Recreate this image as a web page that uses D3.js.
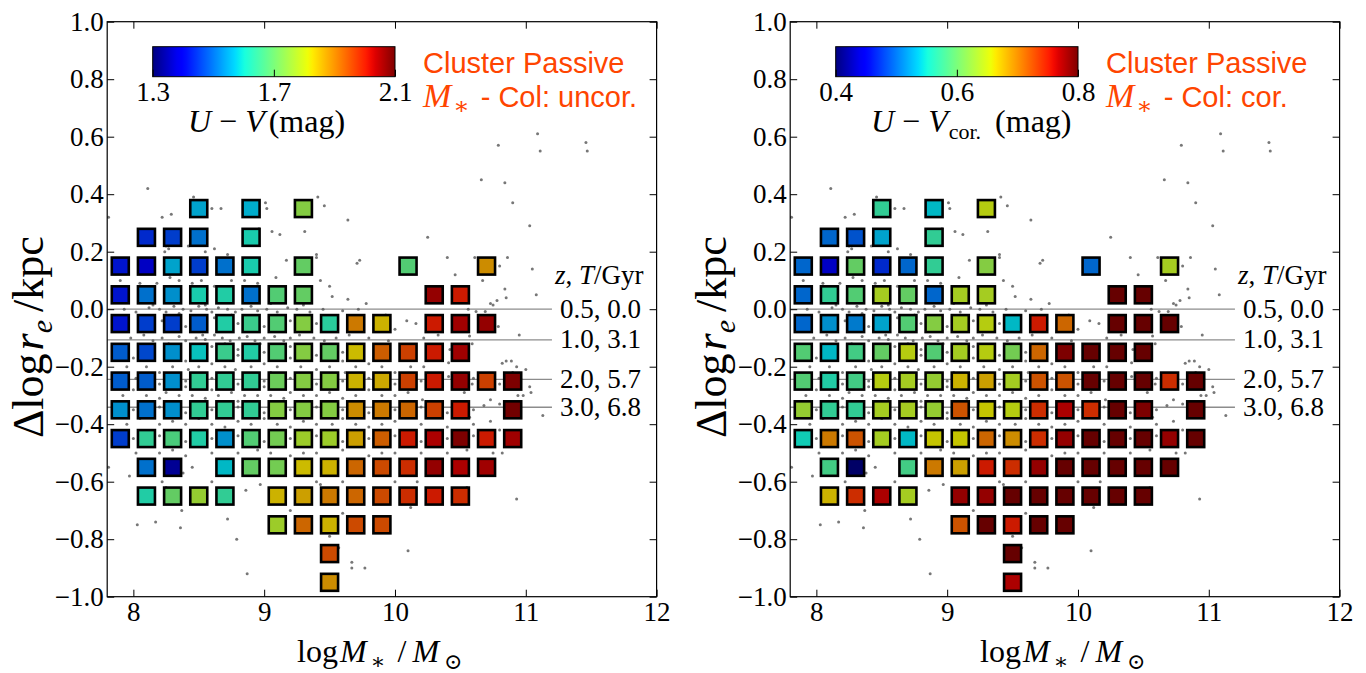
<!DOCTYPE html>
<html>
<head>
<meta charset="utf-8">
<script src="https://cdn.jsdelivr.net/npm/d3@7"></script>
<style>
  body { margin: 0; background: #fff; }
  svg { display: block; }
</style>
</head>
<body>
<svg id="chart"></svg>
<script>
// ---- data ----
const xTicks = [8, 9, 10, 11, 12];
const yTicks = [-1.0, -0.8, -0.6, -0.4, -0.2, 0.0, 0.2, 0.4, 0.6, 0.8, 1.0];

// binned medians: [logM*, dlog re, colour]
const uvCells = [
  [8.5, 0.35, 1.56], [8.9, 0.35, 1.57], [9.3, 0.35, 1.74],
  [8.1, 0.25, 1.44], [8.3, 0.25, 1.46], [8.5, 0.25, 1.51], [8.9, 0.25, 1.61],
  [7.9, 0.15, 1.42], [8.1, 0.15, 1.38], [8.3, 0.15, 1.56], [8.5, 0.15, 1.46], [8.7, 0.15, 1.51], [8.9, 0.15, 1.61], [9.3, 0.15, 1.70], [10.1, 0.15, 1.68], [10.7, 0.15, 1.88],
  [7.9, 0.05, 1.42], [8.1, 0.05, 1.51], [8.3, 0.05, 1.54], [8.5, 0.05, 1.61], [8.7, 0.05, 1.62], [8.9, 0.05, 1.51], [9.1, 0.05, 1.68], [9.3, 0.05, 1.70], [10.3, 0.05, 2.06], [10.5, 0.05, 2.00],
  [7.9, -0.05, 1.42], [8.1, -0.05, 1.46], [8.3, -0.05, 1.46], [8.5, -0.05, 1.49], [8.7, -0.05, 1.62], [8.9, -0.05, 1.65], [9.1, -0.05, 1.68], [9.3, -0.05, 1.74], [9.5, -0.05, 1.63], [9.7, -0.05, 1.90], [9.9, -0.05, 1.84], [10.3, -0.05, 2.00], [10.5, -0.05, 2.05], [10.7, -0.05, 2.06],
  [7.9, -0.15, 1.49], [8.1, -0.15, 1.47], [8.3, -0.15, 1.54], [8.5, -0.15, 1.59], [8.7, -0.15, 1.65], [8.9, -0.15, 1.62], [9.1, -0.15, 1.68], [9.3, -0.15, 1.74], [9.5, -0.15, 1.70], [9.7, -0.15, 1.83], [9.9, -0.15, 1.93], [10.1, -0.15, 1.96], [10.3, -0.15, 2.00], [10.5, -0.15, 2.05],
  [7.9, -0.25, 1.49], [8.1, -0.25, 1.49], [8.3, -0.25, 1.54], [8.5, -0.25, 1.64], [8.7, -0.25, 1.64], [8.9, -0.25, 1.64], [9.1, -0.25, 1.71], [9.3, -0.25, 1.74], [9.5, -0.25, 1.74], [9.7, -0.25, 1.84], [9.9, -0.25, 1.85], [10.1, -0.25, 1.96], [10.3, -0.25, 2.00], [10.5, -0.25, 2.06], [10.7, -0.25, 1.96], [10.9, -0.25, 2.08],
  [7.9, -0.35, 1.54], [8.1, -0.35, 1.51], [8.3, -0.35, 1.54], [8.5, -0.35, 1.64], [8.7, -0.35, 1.64], [8.9, -0.35, 1.64], [9.1, -0.35, 1.74], [9.3, -0.35, 1.74], [9.5, -0.35, 1.74], [9.7, -0.35, 1.88], [9.9, -0.35, 1.90], [10.1, -0.35, 1.92], [10.3, -0.35, 1.96], [10.5, -0.35, 2.00], [10.9, -0.35, 2.09],
  [7.9, -0.45, 1.46], [8.1, -0.45, 1.64], [8.3, -0.45, 1.67], [8.5, -0.45, 1.62], [8.7, -0.45, 1.54], [8.9, -0.45, 1.68], [9.1, -0.45, 1.72], [9.3, -0.45, 1.77], [9.5, -0.45, 1.77], [9.7, -0.45, 1.86], [9.9, -0.45, 1.93], [10.1, -0.45, 2.00], [10.3, -0.45, 2.04], [10.5, -0.45, 2.08], [10.7, -0.45, 2.00], [10.9, -0.45, 2.05],
  [8.1, -0.55, 1.51], [8.3, -0.55, 1.34], [8.7, -0.55, 1.58], [8.9, -0.55, 1.70], [9.1, -0.55, 1.72], [9.3, -0.55, 1.83], [9.5, -0.55, 1.84], [9.7, -0.55, 1.92], [9.9, -0.55, 1.95], [10.1, -0.55, 1.98], [10.3, -0.55, 2.06], [10.5, -0.55, 2.04], [10.7, -0.55, 2.05],
  [8.1, -0.65, 1.62], [8.3, -0.65, 1.70], [8.5, -0.65, 1.76], [8.7, -0.65, 1.64], [9.1, -0.65, 1.84], [9.3, -0.65, 1.86], [9.5, -0.65, 1.90], [9.7, -0.65, 1.92], [9.9, -0.65, 1.95], [10.1, -0.65, 1.98], [10.3, -0.65, 2.00], [10.5, -0.65, 1.98],
  [9.1, -0.75, 1.77], [9.3, -0.75, 1.92], [9.5, -0.75, 1.84], [9.7, -0.75, 1.95], [9.9, -0.75, 1.95],
  [9.5, -0.85, 1.95],
  [9.5, -0.95, 1.88]
];

const uvCorCells = [
  [8.5, 0.35, 0.57], [8.9, 0.35, 0.54], [9.3, 0.35, 0.65],
  [8.1, 0.25, 0.50], [8.3, 0.25, 0.49], [8.5, 0.25, 0.53], [8.9, 0.25, 0.57],
  [7.9, 0.15, 0.50], [8.1, 0.15, 0.44], [8.3, 0.15, 0.60], [8.5, 0.15, 0.47], [8.7, 0.15, 0.50], [8.9, 0.15, 0.57], [9.3, 0.15, 0.62], [10.1, 0.15, 0.50], [10.7, 0.15, 0.64],
  [7.9, 0.05, 0.50], [8.1, 0.05, 0.57], [8.3, 0.05, 0.59], [8.5, 0.05, 0.64], [8.7, 0.05, 0.60], [8.9, 0.05, 0.50], [9.1, 0.05, 0.64], [9.3, 0.05, 0.64], [10.3, 0.05, 0.82], [10.5, 0.05, 0.80],
  [7.9, -0.05, 0.50], [8.1, -0.05, 0.52], [8.3, -0.05, 0.51], [8.5, -0.05, 0.53], [8.7, -0.05, 0.59], [8.9, -0.05, 0.62], [9.1, -0.05, 0.64], [9.3, -0.05, 0.65], [9.5, -0.05, 0.54], [9.7, -0.05, 0.75], [9.9, -0.05, 0.71], [10.3, -0.05, 0.82], [10.5, -0.05, 0.82], [10.7, -0.05, 0.80],
  [7.9, -0.15, 0.59], [8.1, -0.15, 0.54], [8.3, -0.15, 0.58], [8.5, -0.15, 0.60], [8.7, -0.15, 0.65], [8.9, -0.15, 0.59], [9.1, -0.15, 0.64], [9.3, -0.15, 0.65], [9.5, -0.15, 0.61], [9.7, -0.15, 0.71], [9.9, -0.15, 0.79], [10.1, -0.15, 0.82], [10.3, -0.15, 0.82], [10.5, -0.15, 0.82],
  [7.9, -0.25, 0.59], [8.1, -0.25, 0.56], [8.3, -0.25, 0.58], [8.5, -0.25, 0.65], [8.7, -0.25, 0.64], [8.9, -0.25, 0.63], [9.1, -0.25, 0.67], [9.3, -0.25, 0.68], [9.5, -0.25, 0.64], [9.7, -0.25, 0.72], [9.9, -0.25, 0.72], [10.1, -0.25, 0.80], [10.3, -0.25, 0.82], [10.5, -0.25, 0.82], [10.7, -0.25, 0.74], [10.9, -0.25, 0.82],
  [7.9, -0.35, 0.63], [8.1, -0.35, 0.57], [8.3, -0.35, 0.57], [8.5, -0.35, 0.64], [8.7, -0.35, 0.64], [8.9, -0.35, 0.63], [9.1, -0.35, 0.72], [9.3, -0.35, 0.66], [9.5, -0.35, 0.65], [9.7, -0.35, 0.74], [9.9, -0.35, 0.77], [10.1, -0.35, 0.74], [10.3, -0.35, 0.80], [10.5, -0.35, 0.79], [10.9, -0.35, 0.82],
  [7.9, -0.45, 0.55], [8.1, -0.45, 0.70], [8.3, -0.45, 0.72], [8.5, -0.45, 0.64], [8.7, -0.45, 0.54], [8.9, -0.45, 0.66], [9.1, -0.45, 0.66], [9.3, -0.45, 0.71], [9.5, -0.45, 0.69], [9.7, -0.45, 0.74], [9.9, -0.45, 0.78], [10.1, -0.45, 0.82], [10.3, -0.45, 0.82], [10.5, -0.45, 0.82], [10.7, -0.45, 0.78], [10.9, -0.45, 0.82],
  [8.1, -0.55, 0.58], [8.3, -0.55, 0.40], [8.7, -0.55, 0.58], [8.9, -0.55, 0.70], [9.1, -0.55, 0.68], [9.3, -0.55, 0.75], [9.5, -0.55, 0.74], [9.7, -0.55, 0.78], [9.9, -0.55, 0.82], [10.1, -0.55, 0.82], [10.3, -0.55, 0.82], [10.5, -0.55, 0.82], [10.7, -0.55, 0.82],
  [8.1, -0.65, 0.67], [8.3, -0.65, 0.74], [8.5, -0.65, 0.77], [8.7, -0.65, 0.64], [9.1, -0.65, 0.78], [9.3, -0.65, 0.78], [9.5, -0.65, 0.82], [9.7, -0.65, 0.82], [9.9, -0.65, 0.82], [10.1, -0.65, 0.82], [10.3, -0.65, 0.82], [10.5, -0.65, 0.82],
  [9.1, -0.75, 0.72], [9.3, -0.75, 0.82], [9.5, -0.75, 0.75], [9.7, -0.75, 0.82], [9.9, -0.75, 0.82],
  [9.5, -0.85, 0.82],
  [9.5, -0.95, 0.77]
];

// individual galaxies (grey points), same in both panels
const galaxies = [
  [11.09, 0.61], [10.79, 0.57], [11.11, 0.55], [11.46, 0.58], [11.47, 0.55], [10.66, 0.45], [10.84, 0.44], [10.90, 0.37], [11.03, 0.29],
  [10.25, 0.25], [9.64, 0.31], [9.41, 0.39], [9.46, 0.36], [9.31, 0.27], [9.06, 0.27], [9.12, 0.26], [9.01, 0.37], [9.02, 0.35], [8.96, 0.28],
  [8.67, 0.35], [8.60, 0.35], [8.46, 0.39], [8.29, 0.33], [8.22, 0.32], [8.11, 0.42], [7.81, 0.32], [9.71, 0.16], [9.73, 0.17], [10.40, 0.18],
  [10.61, 0.18], [10.86, 0.18], [10.46, 0.12], [10.80, 0.15], [10.67, 0.10], [11.05, 0.14], [10.84, 0.07], [10.85, 0.04], [11.08, 0.05],
  [10.78, 0.03], [10.73, 0.02], [10.75, 0.015], [9.78, 0.02], [9.64, 0.035], [9.52, 0.044], [9.50, 0.08], [9.43, 0.10], [9.40, 0.18],
  [9.40, 0.19], [9.17, 0.17], [9.09, 0.11], [9.07, 0.07], [8.25, 0.22], [8.27, 0.21], [8.24, 0.20], [8.42, 0.22], [8.55, 0.20], [8.62, 0.21],
  [8.72, 0.19], [8.35, 0.10], [8.45, 0.09], [8.52, 0.10], [8.62, 0.08], [8.75, 0.10], [8.85, 0.10], [8.95, 0.09], [8.18, 0.09], [8.05, 0.09],
  [7.90, 0.10], [8.28, 0.11],
  [7.93, 0.0], [8.02, -0.01], [8.12, 0.005], [8.20, 0.0], [8.25, -0.01], [8.31, 0.01], [8.38, 0.0], [8.44, -0.005], [8.50, 0.01], [8.56, 0.0],
  [8.60, -0.01], [8.65, 0.005], [8.72, 0.0], [8.78, -0.01], [8.83, 0.0], [8.90, 0.01], [8.95, -0.005], [9.02, 0.0], [9.10, -0.01], [9.18, 0.005],
  [9.25, 0.0], [9.35, -0.01], [9.45, 0.0], [9.60, -0.005], [9.72, 0.0], [10.00, -0.07], [10.09, -0.04], [10.16, -0.05], [9.93, -0.02],
  [10.56, 0.0], [10.62, -0.008], [10.69, -0.008], [10.79, -0.06], [10.95, -0.09],
  [8.35, -0.015], [8.55, 0.015], [8.75, -0.02], [8.15, 0.015], [9.05, 0.02], [9.30, 0.015],
  [8.05, -0.06], [8.22, -0.04], [8.40, -0.06], [8.62, -0.03], [8.80, -0.05], [9.00, -0.06], [9.20, -0.04], [9.40, -0.05],
  [7.98, -0.10], [8.08, -0.09], [8.15, -0.11], [8.22, -0.10], [8.35, -0.095], [8.40, -0.11], [8.48, -0.10], [8.55, -0.105], [8.62, -0.09],
  [8.68, -0.10], [8.74, -0.11], [8.81, -0.10], [8.87, -0.095], [8.93, -0.11], [9.00, -0.10], [9.08, -0.095], [9.15, -0.11], [9.20, -0.10],
  [9.27, -0.09], [9.38, -0.10], [9.46, -0.11], [9.55, -0.10], [9.65, -0.09], [9.80, -0.10], [9.95, -0.11], [10.22, -0.10], [10.33, -0.09],
  [10.57, -0.093], [10.59, -0.12], [10.42, -0.14], [8.27, -0.12], [8.53, -0.09], [8.70, -0.12], [8.97, -0.12],
  [8.12, -0.14], [8.30, -0.16], [8.48, -0.15], [8.60, -0.13], [8.80, -0.14], [9.00, -0.15], [9.20, -0.13], [9.40, -0.16], [9.60, -0.15],
  [7.95, -0.20], [8.00, -0.17], [8.10, -0.20], [8.20, -0.22], [8.30, -0.20], [8.40, -0.18], [8.42, -0.21], [8.50, -0.20], [8.60, -0.19],
  [8.70, -0.20], [8.78, -0.21], [8.80, -0.16], [8.90, -0.20], [9.00, -0.19], [9.05, -0.22], [9.10, -0.20], [9.20, -0.17], [9.28, -0.20],
  [9.40, -0.21], [9.50, -0.20], [9.60, -0.18], [9.62, -0.22], [9.70, -0.20], [9.80, -0.19], [9.90, -0.20], [10.00, -0.22], [10.12, -0.20],
  [10.22, -0.20], [10.41, -0.186], [10.41, -0.234], [10.82, -0.188], [10.85, -0.18], [10.89, -0.18], [10.93, -0.20], [11.03, -0.27], [11.04, -0.29],
  [10.90, -0.22], [10.96, -0.24], [11.00, -0.21], [10.98, -0.30],
  [8.02, -0.24], [8.20, -0.26], [8.40, -0.25], [8.60, -0.24], [8.80, -0.26], [9.00, -0.25], [9.20, -0.24], [9.40, -0.26], [9.60, -0.25],
  [9.80, -0.24], [10.00, -0.26], [10.20, -0.25], [10.60, -0.24], [10.80, -0.26],
  [7.92, -0.30], [8.00, -0.28], [8.10, -0.30], [8.20, -0.31], [8.25, -0.29], [8.35, -0.30], [8.40, -0.27], [8.45, -0.30], [8.55, -0.31],
  [8.60, -0.28], [8.65, -0.30], [8.75, -0.29], [8.80, -0.32], [8.85, -0.30], [8.95, -0.30], [9.00, -0.27], [9.05, -0.30], [9.15, -0.31],
  [9.20, -0.29], [9.30, -0.30], [9.40, -0.30], [9.50, -0.29], [9.60, -0.31], [9.70, -0.30], [9.80, -0.28], [9.90, -0.30], [10.00, -0.30],
  [10.10, -0.29], [10.21, -0.315], [10.53, -0.29], [10.59, -0.26], [10.73, -0.315], [10.68, -0.335], [10.94, -0.30], [10.57, -0.376], [10.73, -0.39], [11.13, -0.37],
  [8.00, -0.35], [8.20, -0.34], [8.40, -0.36], [8.60, -0.35], [8.80, -0.34], [9.00, -0.36], [9.20, -0.35], [9.40, -0.34], [9.60, -0.35],
  [9.80, -0.36], [10.00, -0.35], [10.20, -0.34], [10.40, -0.36], [10.60, -0.35], [10.80, -0.33],
  [7.95, -0.40], [8.05, -0.38], [8.20, -0.40], [8.30, -0.39], [8.40, -0.40], [8.50, -0.38], [8.60, -0.40], [8.70, -0.41], [8.80, -0.39],
  [8.90, -0.40], [9.00, -0.38], [9.10, -0.40], [9.20, -0.41], [9.30, -0.39], [9.40, -0.40], [9.52, -0.40], [9.60, -0.38], [9.70, -0.40],
  [9.80, -0.41], [9.90, -0.40], [10.00, -0.39], [10.20, -0.40], [10.40, -0.41], [10.60, -0.40], [10.80, -0.42],
  [8.00, -0.45], [8.20, -0.44], [8.40, -0.46], [8.60, -0.45], [8.80, -0.44], [9.00, -0.46], [9.20, -0.45], [9.40, -0.44], [9.60, -0.46],
  [9.80, -0.45], [10.00, -0.44], [10.20, -0.46], [10.40, -0.45], [10.60, -0.44],
  [8.02, -0.50], [8.20, -0.50], [8.30, -0.49], [8.40, -0.51], [8.60, -0.50], [8.80, -0.50], [8.95, -0.49], [9.05, -0.50], [9.20, -0.51],
  [9.30, -0.50], [9.40, -0.50], [9.60, -0.49], [9.80, -0.51], [9.90, -0.50], [10.00, -0.50], [10.20, -0.50], [10.40, -0.50], [10.55, -0.49],
  [10.75, -0.50], [10.82, -0.50],
  [7.81, -0.55], [7.97, -0.58], [8.22, -0.60], [8.25, -0.62], [8.38, -0.57], [8.45, -0.55], [8.60, -0.60], [8.86, -0.63], [8.97, -0.61],
  [9.40, -0.60], [9.43, -0.61], [9.60, -0.60], [10.00, -0.60], [10.17, -0.60], [10.55, -0.62], [10.93, -0.66], [10.12, -0.69], [8.37, -0.70],
  [8.72, -0.73], [9.20, -0.70], [9.60, -0.71],
  [8.03, -0.75], [8.17, -0.74], [8.36, -0.76], [8.79, -0.80], [8.87, -0.92], [9.57, -0.83], [9.67, -0.88], [9.67, -0.90], [9.77, -0.90],
  [10.10, -0.84], [9.50, -0.79]
];

// size-evolution tracks
const evoOffsets = [0.0, -0.107, -0.244, -0.341];
const evoLabels = ['0.5, 0.0', '1.0, 3.1', '2.0, 5.7', '3.0, 6.8'];

const panels = [
  { cells: uvCells, domain: [1.3, 2.1], cbTicks: [1.3, 1.7, 2.1], sub: null, note: ' - Col: uncor.' },
  { cells: uvCorCells, domain: [0.4, 0.8], cbTicks: [0.4, 0.6, 0.8], sub: 'cor.', note: ' - Col: cor.' }
];

// ---- drawing ----
const width = 1366, height = 673;
const serif = "'Liberation Serif', 'DejaVu Serif', serif";
const sans = "'Liberation Sans', Arial, sans-serif";
const accent = '#ff4500';

const svg = d3.select('#chart').attr('width', width).attr('height', height);

const x = d3.scaleLinear().domain([7.8, 12]).range([107.2, 656.6]);
const y = d3.scaleLinear().domain([-1, 1]).range([596.7, 21.7]);

// matplotlib "jet"
const jetR = d3.scaleLinear([0, 0.35, 0.66, 0.89, 1], [0, 0, 1, 1, 0.5]).clamp(true);
const jetG = d3.scaleLinear([0, 0.125, 0.375, 0.64, 0.91, 1], [0, 0, 1, 1, 0, 0]).clamp(true);
const jetB = d3.scaleLinear([0, 0.11, 0.34, 0.65, 1], [0.5, 1, 1, 0, 0]).clamp(true);
const jet = (t, k = 1) => d3.rgb(jetR(t) * 255 * k, jetG(t) * 255 * k, jetB(t) * 255 * k).formatHex();

const defs = svg.append('defs');
const grad = defs.append('linearGradient').attr('id', 'jet');
d3.range(0, 1.0001, 0.02).forEach(t => {
  grad.append('stop').attr('offset', t).attr('stop-color', jet(t));
});

// axis styling: serif tick labels, no domain path
function styleAxis(sel) {
  sel.select('.domain').remove();
  sel.selectAll('.tick line').attr('stroke', '#000');
  sel.selectAll('.tick text')
    .attr('fill', '#000')
    .style('font-family', serif)
    .style('font-size', '27px');
}

panels.forEach((p, i) => {
  const g = svg.append('g').attr('transform', `translate(${i * 683},0)`);
  const norm = d3.scaleLinear().domain(p.domain).range([0, 1]).clamp(true);

  // evolution lines
  g.selectAll('.evo')
    .data(evoOffsets)
    .enter()
    .append('line')
    .attr('x1', x(7.8))
    .attr('x2', x(11.2))
    .attr('y1', d => y(d))
    .attr('y2', d => y(d))
    .attr('stroke', '#8c8c8c')
    .attr('stroke-width', 1.3);

  // grey galaxies
  g.selectAll('.gal')
    .data(galaxies)
    .enter()
    .append('circle')
    .attr('cx', d => x(d[0]))
    .attr('cy', d => y(d[1]))
    .attr('r', 1.5)
    .attr('fill', '#555')
    .attr('opacity', 0.8);

  // binned squares
  const s = 17;
  g.selectAll('.cell')
    .data(p.cells)
    .enter()
    .append('rect')
    .attr('x', d => x(d[0]) - s / 2)
    .attr('y', d => y(d[1]) - s / 2)
    .attr('width', s)
    .attr('height', s)
    .attr('fill', d => jet(norm(d[2]), 0.8))
    .attr('stroke', '#000')
    .attr('stroke-width', 2.6);

  // axes with inward ticks
  g.append('g')
    .attr('transform', `translate(0,${y(-1)})`)
    .call(d3.axisBottom(x).tickValues(xTicks).tickSize(-7).tickPadding(5).tickFormat(d3.format('d')))
    .call(styleAxis);
  g.append('g')
    .attr('transform', `translate(0,${y(1)})`)
    .call(d3.axisTop(x).tickValues(xTicks).tickSize(-7).tickFormat(''))
    .call(styleAxis);
  g.append('g')
    .attr('transform', `translate(${x(7.8)},0)`)
    .call(d3.axisLeft(y).tickValues(yTicks).tickSize(-7).tickPadding(3.5).tickFormat(d3.format('.1f')))
    .call(styleAxis);
  g.append('g')
    .attr('transform', `translate(${x(12)},0)`)
    .call(d3.axisRight(y).tickValues(yTicks).tickSize(-7).tickFormat(''))
    .call(styleAxis);

  g.append('rect')
    .attr('x', x(7.8)).attr('y', y(1))
    .attr('width', x(12) - x(7.8)).attr('height', y(-1) - y(1))
    .attr('fill', 'none').attr('stroke', '#000').attr('stroke-width', 1.2);

  // evolution labels
  g.selectAll('.evoLabel')
    .data(evoOffsets)
    .enter()
    .append('text')
    .attr('x', 560)
    .attr('y', d => y(d) + 8.5)
    .attr('font-family', serif)
    .attr('font-size', 27)
    .text((d, k) => evoLabels[k]);

  const head = g.append('text').attr('x', 555).attr('y', 284)
    .attr('font-family', serif).attr('font-size', 27);
  head.append('tspan').attr('font-style', 'italic').text('z');
  head.append('tspan').text(', ');
  head.append('tspan').attr('font-style', 'italic').text('T');
  head.append('tspan').text('/Gyr');

  // colour bar
  const cb = d3.scaleLinear().domain(p.domain).range([152.7, 395]);
  g.append('rect')
    .attr('x', 152.7).attr('y', 46.7).attr('width', 395 - 152.7).attr('height', 30)
    .attr('fill', 'url(#jet)').attr('stroke', '#000').attr('stroke-width', 1);
  g.append('g')
    .attr('transform', 'translate(0,76.7)')
    .call(d3.axisBottom(cb).tickValues(p.cbTicks).tickSize(-7).tickPadding(5).tickFormat(d3.format('.1f')))
    .call(styleAxis);

  const cbl = g.append('text').attr('x', 188).attr('y', 132)
    .attr('font-family', serif).attr('font-size', 32);
  cbl.append('tspan').attr('font-style', 'italic').text('U');
  cbl.append('tspan').attr('dx', 8).text('\u2212');
  cbl.append('tspan').attr('font-style', 'italic').attr('dx', 8).text('V');
  if (p.sub) {
    cbl.append('tspan').attr('font-size', 22).attr('dy', 7).attr('dx', 1).text(p.sub);
    cbl.append('tspan').attr('dy', -7).attr('dx', 14).text('(mag)');
  } else {
    cbl.append('tspan').attr('dx', 4).text('(mag)');
  }

  // sample label
  g.append('text').attr('x', 423).attr('y', 73)
    .attr('font-family', sans).attr('font-size', 29).attr('fill', accent)
    .text('Cluster Passive');
  const note = g.append('text').attr('x', 423).attr('y', 107)
    .attr('font-family', sans).attr('font-size', 29).attr('fill', accent);
  note.append('tspan').attr('font-family', serif).attr('font-style', 'italic').attr('font-size', 34).text('M');
  note.append('tspan').attr('font-family', serif).attr('font-size', 24).attr('dy', 7).attr('dx', 2).text('\u2217');
  note.append('tspan').attr('dy', -7).attr('dx', 3).text(p.note);

  // axis titles
  const xl = g.append('text').attr('x', 297).attr('y', 662)
    .attr('font-family', serif).attr('font-size', 32);
  xl.append('tspan').text('log');
  xl.append('tspan').attr('font-style', 'italic').attr('dx', 2).text('M');
  xl.append('tspan').attr('font-size', 22).attr('dy', 7).attr('dx', 4).text('\u2217');
  xl.append('tspan').attr('dy', -7).attr('dx', 12).text('/');
  xl.append('tspan').attr('font-style', 'italic').attr('dx', 6).text('M');
  xl.append('tspan').attr('font-size', 22).attr('dy', 7).attr('dx', 5).text('\u2299');

  const yl = g.append('text')
    .attr('transform', 'translate(43,438) rotate(-90)')
    .attr('font-family', serif).attr('font-size', 44);
  yl.append('tspan').text('\u0394log');
  yl.append('tspan').attr('font-style', 'italic').attr('dx', 3).text('r');
  yl.append('tspan').attr('font-style', 'italic').attr('font-size', 30).attr('dy', 9).text('e');
  yl.append('tspan').attr('dy', -9).attr('dx', 8).text('/kpc');
});
</script>
</body>
</html>
